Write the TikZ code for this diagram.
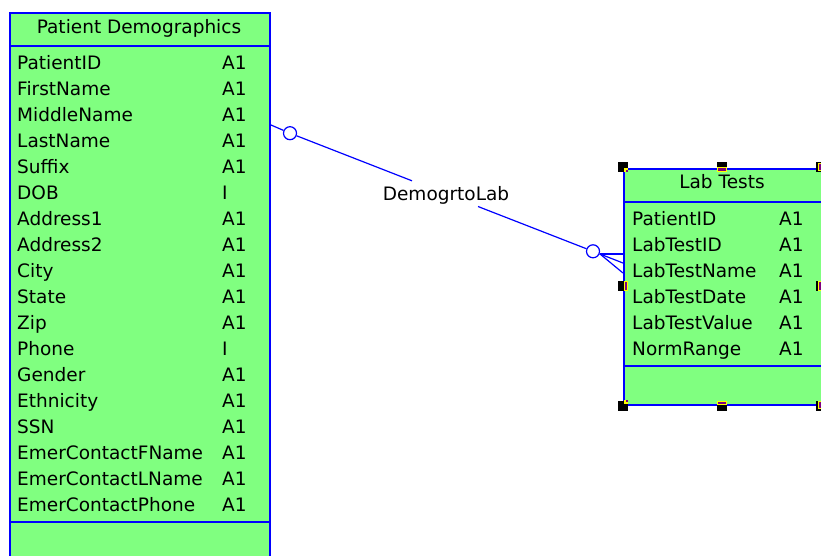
\documentclass[tikz,border=0pt]{standalone}
\usepackage{fontspec}
\setmainfont{DejaVu Sans}
\usetikzlibrary{calc}
\definecolor{tblfill}{RGB}{128,255,128}
\definecolor{tblline}{RGB}{0,0,255}
\definecolor{hdlpurple}{RGB}{128,0,128}
\definecolor{hdlyellow}{RGB}{255,255,0}
\begin{document}
\begin{tikzpicture}[x=1pt,y=-1pt,
  tbl/.style={rectangle, draw=tblline, line width=2pt, fill=tblfill, inner sep=0pt, anchor=north west},
  sep/.style={draw=tblline, line width=2pt},
  txt/.style={font=\fontsize{18.5}{20}\selectfont, text=black, inner sep=0pt, anchor=base west},
  ttl/.style={font=\fontsize{18.5}{20}\selectfont, text=black, inner sep=0pt, anchor=base},
  rel/.style={draw=tblline, line width=1.2pt},
  opt/.style={circle, draw=tblline, line width=1.2pt, fill=white, minimum size=13pt, inner sep=0pt},
  hdl/.style={rectangle, fill=black, minimum size=10pt, inner sep=0pt},
  hdlmark/.style={fill=hdlpurple, draw=hdlyellow, line width=0.8pt}]
\useasboundingbox (0,0) rectangle (821,555);
\clip (0,0) rectangle (821,555);

% Patient Demographics table
\node[tbl, minimum width=260pt, minimum height=560pt] (demo) at (9,12) {};
\draw[sep] ($(demo.north west)+(0,34)$) -- ($(demo.north east)+(0,34)$);
\draw[sep] ($(demo.north west)+(0,510)$) -- ($(demo.north east)+(0,510)$);
\node[ttl] (demotitle) at (139,33) {Patient Demographics};
\foreach \n/\t [count=\i from 0] in {PatientID/A1, FirstName/A1, MiddleName/A1,
    LastName/A1, Suffix/A1, DOB/I, Address1/A1, Address2/A1, City/A1, State/A1,
    Zip/A1, Phone/I, Gender/A1, Ethnicity/A1, SSN/A1, EmerContactFName/A1,
    EmerContactLName/A1, EmerContactPhone/A1} {
  \node[txt] (demo-n\i) at (17,69+26*\i) {\n};
  \node[txt] (demo-t\i) at (222,69+26*\i) {\t};
}

% Lab Tests table
\node[tbl, minimum width=220pt, minimum height=236pt] (lab) at (623,168) {};
\draw[sep] ($(lab.north west)+(0,34)$) -- ($(lab.north east)+(0,34)$);
\draw[sep] ($(lab.north west)+(0,198)$) -- ($(lab.north east)+(0,198)$);
\node[ttl] (labtitle) at (722,188) {Lab Tests};
\foreach \n [count=\i from 0] in {PatientID, LabTestID, LabTestName,
    LabTestDate, LabTestValue, NormRange} {
  \node[txt] (lab-n\i) at (632,225+26*\i) {\n};
  \node[txt] (lab-t\i) at (779,225+26*\i) {A1};
}

% selection handles of the Lab Tests table
\node[hdl] (h1) at (622.5,166.5) {};
\node[hdl] (h2) at (722,166.5) {};
\node[hdl] (h3) at (821,166.5) {};
\node[hdl] (h4) at (622.5,286) {};
\node[hdl] (h5) at (821,286) {};
\node[hdl] (h6) at (622.5,405.5) {};
\node[hdl] (h7) at (722,405.5) {};
\node[hdl] (h8) at (821,405.5) {};
\fill[hdlyellow] (624,168) rectangle (628,172);
\fill[hdlpurple] (626,170) rectangle (628,172);
\fill[hdlyellow] (624,400) rectangle (628,404);
\fill[hdlpurple] (626,400) rectangle (628,402);
\draw[hdlmark] (717.5,167.5) rectangle (726.5,171);
\draw[hdlmark] (717.5,401) rectangle (726.5,404.5);
\draw[hdlmark] (624,281.5) rectangle (627.5,290.5);
\draw[hdlmark] (818,281.5) rectangle (821,290.5);
\draw[hdlmark] (818,163) rectangle (821,170);
\draw[hdlmark] (818,401) rectangle (821,408);

% DemogrtoLab relationship
\coordinate (dA) at ($(demo.north east)+(0,113)$);
\coordinate (g1) at (412,180.8);
\coordinate (g2) at (478,206.5);
\coordinate (foot) at (600,254);
\coordinate (lA) at ($(lab.north west)+(0,86)$);
\coordinate (lB) at ($(lab.north west)+(0,95)$);
\coordinate (lC) at ($(lab.north west)+(0,105)$);
\node[opt] (o1) at (290,133.2) {};
\node[opt] (o2) at (593,251.3) {};
\draw[rel] (dA) -- (o1);
\draw[rel] (o1) -- (g1);
\draw[rel] (g2) -- (o2);
\draw[rel] (o2) -- (foot);
\draw[rel] (foot) -- (lA);
\draw[rel] (foot) -- (lB);
\draw[rel] (foot) -- (lC);
\node[ttl] (rellabel) at (446,200) {DemogrtoLab};
\end{tikzpicture}
\end{document}
